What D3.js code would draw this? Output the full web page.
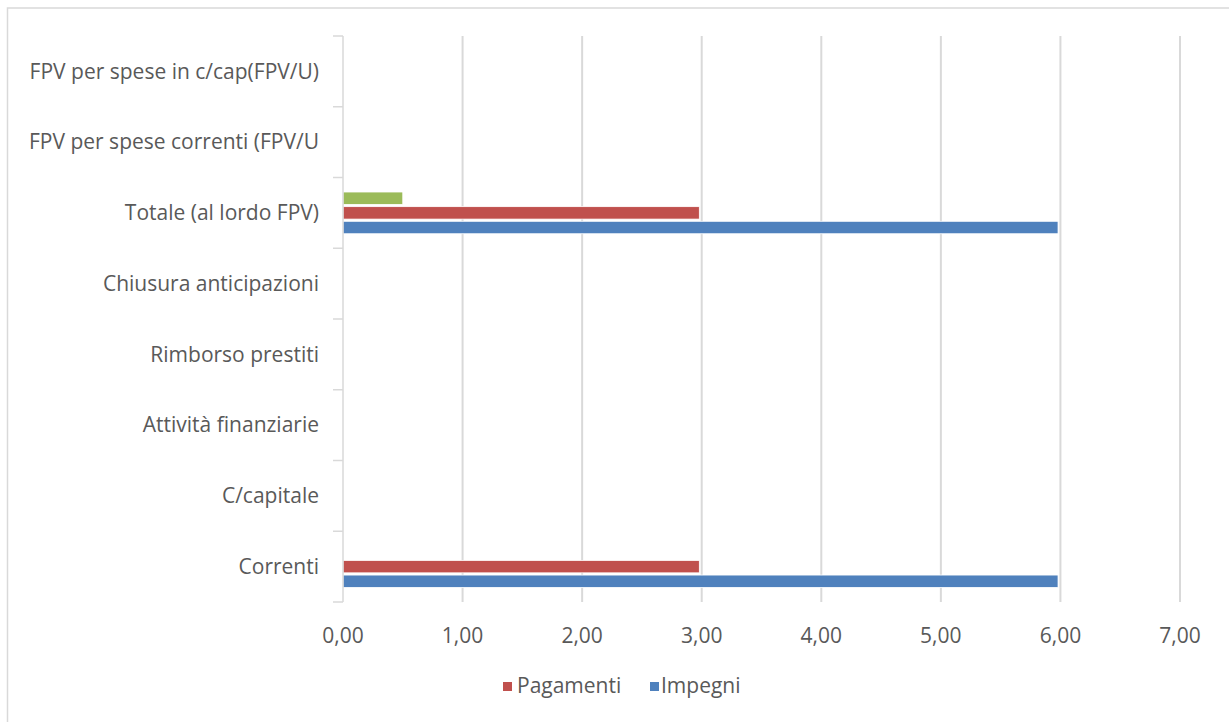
<!DOCTYPE html>
<html>
<head>
<meta charset="utf-8">
<script src="https://cdn.jsdelivr.net/npm/d3@7"></script>
<style>
  body { margin: 0; background: #fff; }
  text { font-family: "Open Sans", "Noto Sans", sans-serif; fill: #595959; }
</style>
</head>
<body>
<div id="chart"></div>
<script>
// categorie dall'alto verso il basso
const categories = [
  "FPV per spese in c/cap(FPV/U)",
  "FPV per spese correnti (FPV/U",
  "Totale (al lordo FPV)",
  "Chiusura anticipazioni",
  "Rimborso prestiti",
  "Attività finanziarie",
  "C/capitale",
  "Correnti"
];
const seriesNames = ["FPV", "Pagamenti", "Impegni"];
const fpvValues       = [0, 0, 0.50, 0, 0, 0, 0, 0];
const pagamentiValues = [0, 0, 2.98, 0, 0, 0, 0, 2.98];
const impegniValues   = [0, 0, 5.98, 0, 0, 0, 0, 5.98];
const xTicks = [0, 1, 2, 3, 4, 5, 6, 7];
const colors = { "FPV": "#9bbb59", "Pagamenti": "#c0504d", "Impegni": "#4f81bd" };
const legendItems = ["Pagamenti", "Impegni"];

const W = 1229, H = 722;
const plotLeft = 343, plotRight = 1180, plotTop = 36, plotBottom = 602;

const svg = d3.select("#chart").append("svg")
  .attr("width", W).attr("height", H);

// Rahmen
svg.append("rect")
  .attr("x", 7.5).attr("y", 8).attr("width", 1240).attr("height", 740)
  .attr("fill", "none").attr("stroke", "#d9d9d9").attr("stroke-width", 1.5);

const x = d3.scaleLinear().domain([0, 7]).range([plotLeft, plotRight]);
const y = d3.scaleBand().domain(categories).range([plotTop, plotBottom]).padding(0);
const ySub = d3.scaleBand().domain(seriesNames)
  .range([14.5, y.bandwidth() - 14.5]).paddingInner(0.15);

// griglia verticale
svg.append("g").selectAll("line")
  .data(xTicks.slice(1))
  .enter().append("line")
  .attr("x1", d => x(d)).attr("x2", d => x(d))
  .attr("y1", plotTop).attr("y2", plotBottom)
  .attr("stroke", "#d9d9d9").attr("stroke-width", 2);

// barre
const rows = categories.map((c, i) => ({
  cat: c,
  vals: { "FPV": fpvValues[i], "Pagamenti": pagamentiValues[i], "Impegni": impegniValues[i] }
}));

const g = svg.append("g");
rows.forEach(r => {
  seriesNames.forEach(s => {
    if (r.vals[s] <= 0) return;
    g.append("rect")
      .attr("x", x(0))
      .attr("y", y(r.cat) + ySub(s))
      .attr("width", x(r.vals[s]) - x(0))
      .attr("height", ySub.bandwidth())
      .attr("fill", colors[s])
      .attr("stroke", "#ffffff").attr("stroke-width", 0.8);
  });
});

// asse verticale con tick
const yAxis = svg.append("g");
yAxis.append("line")
  .attr("x1", plotLeft).attr("x2", plotLeft).attr("y1", plotTop).attr("y2", plotBottom)
  .attr("stroke", "#d9d9d9").attr("stroke-width", 1.5);
const bounds = categories.map(c => y(c)).concat([plotBottom]);
yAxis.selectAll("line.tick")
  .data(bounds).enter().append("line")
  .attr("class", "tick")
  .attr("x1", plotLeft - 10).attr("x2", plotLeft)
  .attr("y1", d => d).attr("y2", d => d)
  .attr("stroke", "#d9d9d9").attr("stroke-width", 1.5);

yAxis.selectAll("text")
  .data(categories).enter().append("text")
  .attr("x", 319)
  .attr("y", d => y(d) + y.bandwidth() / 2)
  .attr("dy", "0.35em")
  .attr("text-anchor", "end")
  .attr("font-size", "21px")
  .text(d => d);

// etichette asse x
const fmt = d => d3.format(".2f")(d).replace(".", ",");
svg.append("g").selectAll("text")
  .data(xTicks).enter().append("text")
  .attr("x", d => x(d))
  .attr("y", 636)
  .attr("dy", "0.35em")
  .attr("text-anchor", "middle")
  .attr("font-size", "21px")
  .text(fmt);

// legenda
const legendPos = [{ sx: 503, tx: 517 }, { sx: 650, tx: 661 }];
const legend = svg.append("g");
legendItems.forEach((s, i) => {
  legend.append("rect")
    .attr("x", legendPos[i].sx).attr("y", 682)
    .attr("width", 9).attr("height", 9)
    .attr("fill", colors[s]);
  legend.append("text")
    .attr("x", legendPos[i].tx).attr("y", 686)
    .attr("dy", "0.35em")
    .attr("font-size", "21px")
    .text(s);
});
</script>
</body>
</html>
